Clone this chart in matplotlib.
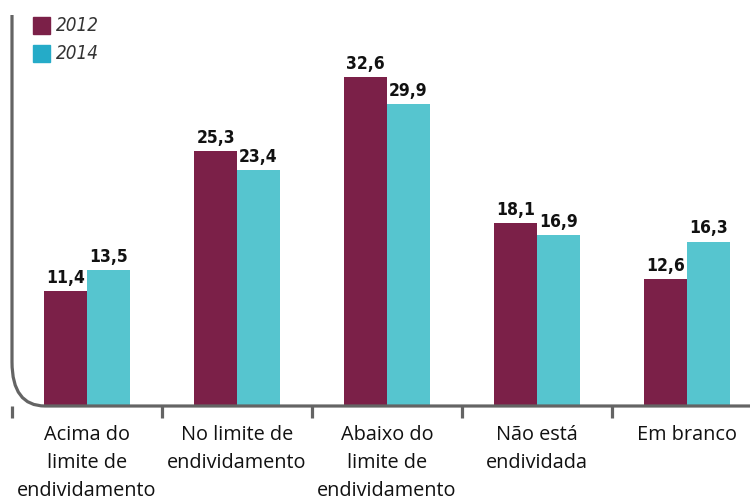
import matplotlib
matplotlib.use("Agg")
import matplotlib.pyplot as plt
from matplotlib.path import Path
from matplotlib.patches import PathPatch, Rectangle
import numpy as np

categories = ["Acima do\nlimite de\nendividamento", "No limite de\nendividamento",
              "Abaixo do\nlimite de\nendividamento", "Não está\nendividada", "Em branco"]
values_2012 = [11.4, 25.3, 32.6, 18.1, 12.6]
values_2014 = [13.5, 23.4, 29.9, 16.9, 16.3]
series_labels = ["2012", "2014"]

color_2012 = "#7b2048"
color_2014 = "#56c5cf"
legend_2014 = "#25abc8"
axis_color = "#646464"

fig = plt.figure(figsize=(7.5, 5), dpi=100)
ax = fig.add_axes([12 / 750, 94 / 500, 738 / 750, 391 / 500])
ax.set_xlim(0.5, 0.5 + 738 / 150)
ax.set_ylim(0, 391 / 10.09)
ax.axis("off")

x = np.arange(1, len(categories) + 1)
w = 0.285
ax.bar(x - w / 2, values_2012, w, color=color_2012)
ax.bar(x + w / 2, values_2014, w, color=color_2014)

lbl = dict(ha="center", va="bottom", fontsize=12.5, fontweight="bold",
           fontstretch="condensed", family="DejaVu Sans", color="#111111")
for xi, v in zip(x - w / 2, values_2012):
    ax.text(xi, v + 0.4, f"{v:.1f}".replace(".", ","), **lbl)
for xi, v in zip(x + w / 2, values_2014):
    ax.text(xi, v + 0.4, f"{v:.1f}".replace(".", ","), **lbl)

# axis line with rounded corner at the bottom left
x0, xr = 0.5, 33 / 150
ytop, yr = 391 / 10.09, 44 / 10.09
xend = 0.5 + 740 / 150
verts = [(x0, ytop), (x0, yr), (x0, 0), (x0 + xr, 0), (xend, 0)]
codes = [Path.MOVETO, Path.LINETO, Path.CURVE3, Path.CURVE3, Path.LINETO]
ax.add_patch(PathPatch(Path(verts, codes), fill=False, lw=2.3,
                       edgecolor=axis_color, capstyle="butt", clip_on=False))

# tick stubs below the baseline
stub = 12 / 10.09
for t in np.arange(0.5, len(categories) + 0.5, 1.0):
    ax.plot([t, t], [0, -stub], color=axis_color, lw=2.3, clip_on=False,
            solid_capstyle="butt")

for xi, name in zip(x, categories):
    ax.text(xi, -19.5 / 10.09, name, ha="center", va="top", fontsize=14.3,
            family="Open Sans", color="#111111", linespacing=1.5)

# legend
for i, (lab, col) in enumerate(zip(series_labels, [color_2012, legend_2014])):
    y = 1 - (17 + 28 * i) / 500
    fig.patches.append(Rectangle((33 / 750, y - 17 / 500), 17 / 750, 17 / 500,
                                 transform=fig.transFigure, color=col))
    fig.text(56 / 750, y - 8.5 / 500, lab, ha="left", va="center", fontsize=13.5,
             style="italic", fontstretch="condensed", family="DejaVu Sans",
             color="#333333")

fig.savefig("out.png", dpi=100)
